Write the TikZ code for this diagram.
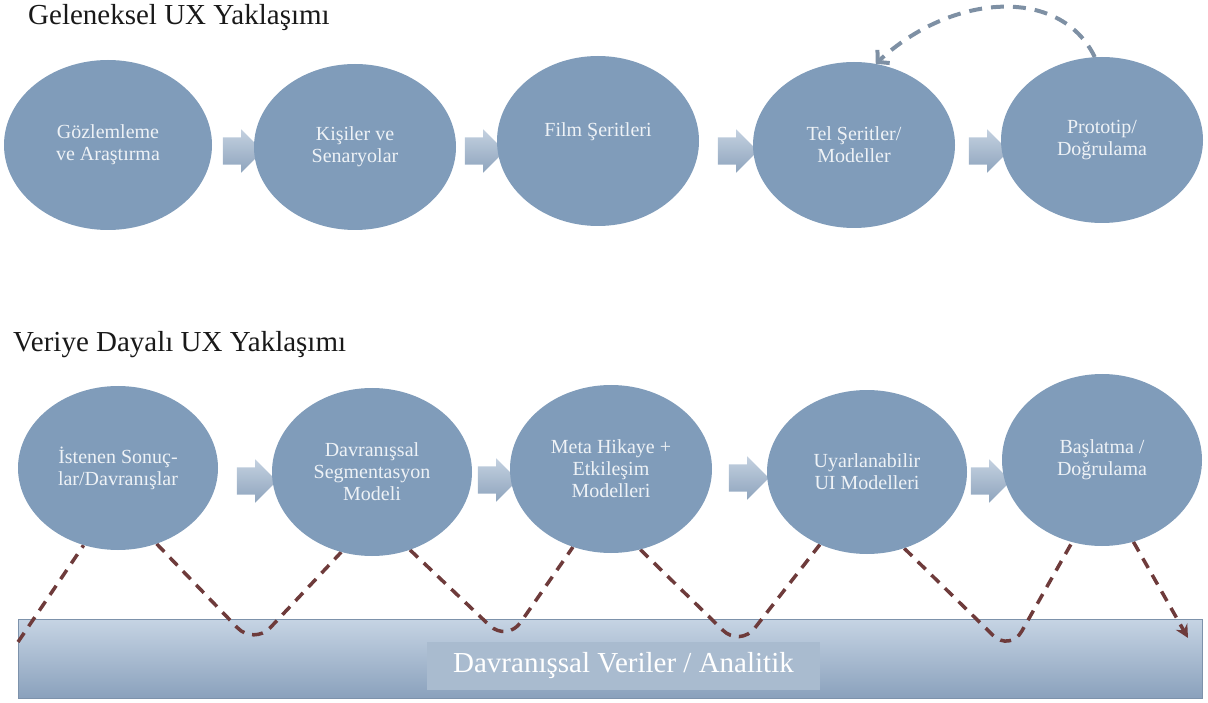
\documentclass[tikz,border=0pt]{standalone}
\usepackage{fontspec}
\setmainfont{Liberation Serif}
\usetikzlibrary{shapes.geometric,shapes.arrows,arrows.meta,backgrounds}

\definecolor{stageblue}{HTML}{809CBA}
\definecolor{stagetext}{HTML}{EEF2F6}
\definecolor{arrowlight}{HTML}{C4D1E0}
\definecolor{arrowdark}{HTML}{8EA4BD}
\definecolor{loopgray}{HTML}{7E90A4}
\definecolor{wavebrown}{HTML}{6E3B3B}
\definecolor{barlight}{HTML}{C6D4E4}
\definecolor{bardark}{HTML}{8AA1BC}
\definecolor{barline}{HTML}{7D92AB}
\definecolor{labelbox}{HTML}{A9BBCF}

\tikzset{
  stage/.style={ellipse, fill=stageblue, text=stagetext, minimum width=202pt, minimum height=166pt,
    inner sep=0pt, align=center, font=\fontsize{20}{22}\selectfont},
  flowarrow/.style={single arrow, inner xsep=0pt, inner ysep=13.5pt, minimum height=40pt,
    single arrow head extend=8pt, top color=arrowlight, bottom color=arrowdark, draw=none},
  heading/.style={anchor=base west, inner sep=0pt, text=black!90, font=\fontsize{29}{32}\selectfont},
  databar/.style={rectangle, minimum width=1184pt, minimum height=79pt, top color=barlight,
    bottom color=bardark, draw=barline, line width=0.8pt},
  barlabel/.style={rectangle, minimum width=393pt, minimum height=48pt, fill=labelbox,
    text=white, font=\fontsize{29}{32}\selectfont},
  loopback/.style={loopgray, line width=4pt, dash pattern=on 13pt off 9pt},
  wave/.style={wavebrown, line width=3.5pt, dash pattern=on 11pt off 8pt, rounded corners=24pt}
}

\begin{document}
\begin{tikzpicture}[x=1pt,y=-1pt]
\useasboundingbox (0,0) rectangle (1208,703);

\node[heading] (head1) at (28,25) {Geleneksel UX Yaklaşımı};
\node[heading] (head2) at (13,352) {Veriye Dayalı UX Yaklaşımı};

\foreach \n/\x/\y in {a1/236/151, a2/478/151, a3/731/151, a4/982/151,
                      b1/250/481, b2/491/480, b3/742/478, b4/984/481}
  \node[flowarrow] (\n) at (\x,\y) {};

\node[stage, minimum width=208pt, minimum height=170pt] (e1) at (108,145) {Gözlemleme\\ve Araştırma};
\node[stage] (e2) at (355,147) {Kişiler ve\\Senaryolar};
\node[stage, text depth=22pt, minimum height=170pt] (e3) at (598,141) {Film Şeritleri};
\node[stage] (e4) at (854,145) {Tel Şeritler/\\Modeller};
\node[stage] (e5) at (1102,140) {Prototip/\\Doğrulama};

\draw[loopback, -{Straight Barb[length=8pt,width=18pt]}]
  (e5.95) .. controls +(-35,-72) and +(75,-70) .. (e4.75);

\node[stage, minimum width=200pt, minimum height=164pt] (c1) at (118,468) {İstenen Sonuç-\\lar/Davranışlar};
\node[stage, minimum width=200pt, minimum height=168pt] (c2) at (372,472) {Davranışsal\\Segmentasyon\\Modeli};
\node[stage, minimum height=168pt] (c3) at (611,469) {Meta Hikaye +\\Etkileşim\\Modelleri};
\node[stage, minimum width=200pt, minimum height=164pt] (c4) at (867,472) {Uyarlanabilir\\UI Modelleri};
\node[stage, minimum width=200pt, minimum height=172pt] (c5) at (1102,460) {Başlatma /\\Doğrulama};

\begin{scope}[on background layer]
\node[databar] (bar) at (610,658.5) {};
\node[barlabel] (barlbl) at (623.5,666) {Davranışsal Veriler / Analitik};

\coordinate (wstart) at (18,642);
\coordinate (t1) at (254,645);
\coordinate (t2) at (507,642);
\coordinate (t3) at (740,647);
\coordinate (t4) at (1010,652);
\coordinate (wend) at (1188,638);

\draw[wave] (wstart) -- (c1.246);
\foreach \a/\p/\t/\b/\q in {c1/297/t1/c2/249, c2/296/t2/c3/244, c3/290/t3/c4/237, c4/296/t4/c5/250}
  \draw[wave] (\a.\p) -- (\t) -- (\b.\q);
\draw[wave, -{Stealth[length=13pt,width=13pt]}] (c5.291) -- (wend);
\end{scope}
\end{tikzpicture}
\end{document}
